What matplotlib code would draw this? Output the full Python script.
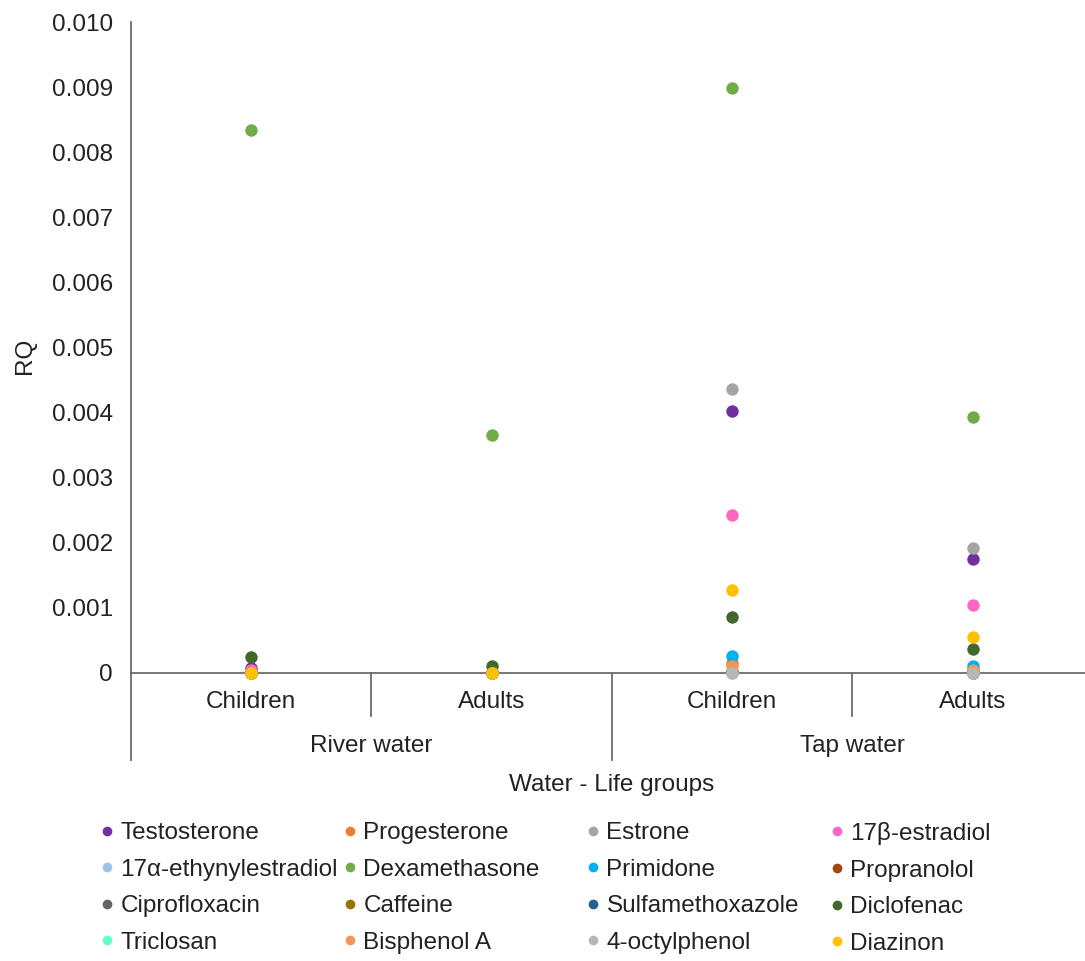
import matplotlib.pyplot as plt
from matplotlib.lines import Line2D
from matplotlib.ticker import FuncFormatter
import matplotlib.transforms as mtransforms

plt.rcParams['font.family'] = ['Liberation Sans', 'DejaVu Sans']

groups = ["Children", "Adults", "Children", "Adults"]
waters = ["River water", "Tap water"]

compounds = ["Testosterone", "Progesterone", "Estrone", "17β-estradiol",
             "17α-ethynylestradiol", "Dexamethasone", "Primidone", "Propranolol",
             "Ciprofloxacin", "Caffeine", "Sulfamethoxazole", "Diclofenac",
             "Triclosan", "Bisphenol A", "4-octylphenol", "Diazinon"]

# RQ per compound: river children, river adults, tap children, tap adults
testosterone = [0.00007, 0.00002, 0.00403, 0.00175]
progesterone = [0.0, 0.0, 0.00015, 0.00006]
estrone = [0.00001, 0.0, 0.00436, 0.00192]
estradiol_b = [0.00004, 0.00002, 0.00242, 0.00105]
ethynylestradiol = [0.0, 0.0, 0.00001, 0.0]
dexamethasone = [0.00834, 0.00365, 0.00899, 0.00393]
primidone = [0.0, 0.0, 0.00026, 0.00011]
propranolol = [0.0, 0.0, 0.00002, 0.00001]
ciprofloxacin = [0.0, 0.0, 0.00001, 0.0]
caffeine = [0.0, 0.0, 0.00001, 0.0]
sulfamethoxazole = [0.0, 0.0, 0.00002, 0.00001]
diclofenac = [0.00025, 0.00011, 0.00086, 0.00037]
triclosan = [0.0, 0.0, 0.0, 0.0]
bisphenol_a = [0.0, 0.0, 0.00010, 0.00004]
octylphenol = [0.0, 0.0, 0.0, 0.0]
diazinon = [0.0, 0.0, 0.00127, 0.00055]

values = [testosterone, progesterone, estrone, estradiol_b, ethynylestradiol,
          dexamethasone, primidone, propranolol, ciprofloxacin, caffeine,
          sulfamethoxazole, diclofenac, triclosan, bisphenol_a, octylphenol, diazinon]

colors = ["#7030A0", "#ED7D31", "#A5A5A5", "#FF66C4", "#9DC3E6", "#70AD47",
          "#00B0F0", "#9E480E", "#636363", "#997300", "#255E91", "#43682B",
          "#66FFCC", "#F1975A", "#B7B7B7", "#FFC000"]

text_col = "#222222"
line_col = "#6b6b6b"
fs = 17.5

fig = plt.figure(figsize=(10.85, 9.61), dpi=100)
ax = fig.add_axes([0.1207, 0.2997, 0.8866, 0.6774])

x = list(range(len(groups)))
for name, vals, c in zip(compounds, values, colors):
    ax.scatter(x, vals, s=80, color=c, label=name, zorder=3, clip_on=False,
               linewidths=0)

ax.set_xlim(-0.5, 3.5)
ax.set_ylim(0, 0.010)
ax.set_yticks([i / 1000 for i in range(11)])
ax.yaxis.set_major_formatter(FuncFormatter(lambda v, p: "0" if v == 0 else "%.3f" % v))
ax.tick_params(axis='y', length=0, pad=13, labelsize=fs, labelcolor=text_col)
ax.set_xticks([])

for s in ['top', 'right']:
    ax.spines[s].set_visible(False)
ax.spines['left'].set_color(line_col)
ax.spines['bottom'].set_color(line_col)
ax.spines['left'].set_linewidth(1.3)
ax.spines['bottom'].set_linewidth(1.3)

# multi-level category axis
trans = mtransforms.blended_transform_factory(ax.transData, ax.transAxes)
for xs, depth in [(-0.5, -0.1336), (0.5, -0.066), (1.5, -0.1336), (2.5, -0.066), (3.5, -0.1336)]:
    ax.plot([xs, xs], [0, depth], color=line_col, lw=1.3, transform=trans, clip_on=False)
for xi, g in zip(x, groups):
    ax.text(xi, -0.0445, g, transform=trans, ha='center', va='center',
            fontsize=fs, color=text_col)
for xi, w in zip([0.5, 2.5], waters):
    ax.text(xi, -0.112, w, transform=trans, ha='center', va='center',
            fontsize=fs, color=text_col)
ax.text(1.5, -0.172, "Water - Life groups", transform=trans, ha='center', va='center',
        fontsize=fs, color=text_col)

fig.text(25 / 1085, 1 - 356 / 961, "RQ", rotation=90, ha='center', va='center',
         fontsize=fs, color=text_col)

# legend: four columns, row-major order
col_x = [107, 350, 593, 837]
for ci in range(4):
    handles = []
    for ri in range(4):
        k = ri * 4 + ci
        handles.append(Line2D([], [], marker='o', linestyle='none', markersize=7,
                              markerfacecolor=colors[k], markeredgewidth=0,
                              label=compounds[k]))
    fig.legend(handles=handles, loc='upper left',
               bbox_to_anchor=((col_x[ci] - 6) / 1085, 1 - 822 / 961),
               frameon=False, fontsize=fs, handlelength=0.5, handletextpad=0.3,
               borderpad=0, borderaxespad=0, labelspacing=0.6,
               labelcolor=text_col)

fig.savefig("out.png", dpi=100)
